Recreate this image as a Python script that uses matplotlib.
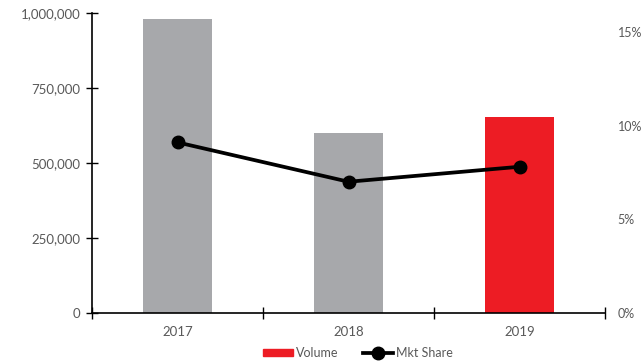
import matplotlib.pyplot as plt
from matplotlib.ticker import FuncFormatter, FixedLocator

years = ['2017', '2018', '2019']
volume = [980000, 600000, 653000]
mkt_share = [0.091, 0.070, 0.078]
bar_colors = ['#A7A8AB', '#A7A8AB', '#ED1C24']

text_color = '#595959'
plt.rcParams['font.family'] = ['Lato', 'DejaVu Sans']

fig = plt.figure(figsize=(6.43, 3.63), dpi=100)
ax = fig.add_axes([92 / 643, 1 - 313 / 363, (605 - 92) / 643, 300 / 363])

x = range(len(years))
bars = ax.bar(x, volume, width=0.4, color=bar_colors, zorder=1)

ax.set_xlim(-0.5, len(years) - 0.5)
ax.set_ylim(0, 1000000)
ax.set_yticks([0, 250000, 500000, 750000, 1000000])
ax.yaxis.set_major_formatter(FuncFormatter(lambda v, p: f'{int(v):,}'))

# category boundaries get the tick marks, centres get the labels
ax.xaxis.set_major_locator(FixedLocator([-0.5, 0.5, 1.5, 2.5]))
ax.xaxis.set_major_formatter(FuncFormatter(lambda v, p: ''))
ax.xaxis.set_minor_locator(FixedLocator(list(x)))
ax.set_xticklabels(years, minor=True)
ax.tick_params(axis='x', which='major', direction='inout', length=9, width=1)
ax.tick_params(axis='x', which='minor', length=0, pad=9, labelsize=9.5, labelcolor=text_color)
ax.tick_params(axis='y', direction='inout', length=9, width=1, pad=4,
               labelsize=9.5, labelcolor=text_color)

for s in ['top', 'right']:
    ax.spines[s].set_visible(False)
ax.spines['left'].set_linewidth(1.2)
ax.spines['bottom'].set_linewidth(1.2)

ax2 = ax.twinx()
line, = ax2.plot(list(x), mkt_share, color='black', lw=2.7, marker='o',
                 markersize=9, zorder=3)
ax2.set_ylim(0, 0.16)
ax2.set_yticks([0, 0.05, 0.10, 0.15])
ax2.yaxis.set_major_formatter(FuncFormatter(lambda v, p: f'{v * 100:.0f}%'))
ax2.tick_params(axis='y', length=0, pad=9, labelsize=9, labelcolor=text_color)
for s in ['top', 'right', 'left', 'bottom']:
    ax2.spines[s].set_visible(False)

vol_handle = plt.Rectangle((0, 0), 1, 1, color='#ED1C24')
leg = fig.legend([vol_handle, line], ['Volume', 'Mkt Share'], loc='center',
                 bbox_to_anchor=(358 / 643, 1 - 353 / 363), ncol=2, frameon=False,
                 fontsize=9, handlelength=2.4, handleheight=0.4,
                 columnspacing=2.0, handletextpad=0.2)
for t in leg.get_texts():
    t.set_color(text_color)

fig.savefig('out.png', dpi=100)
